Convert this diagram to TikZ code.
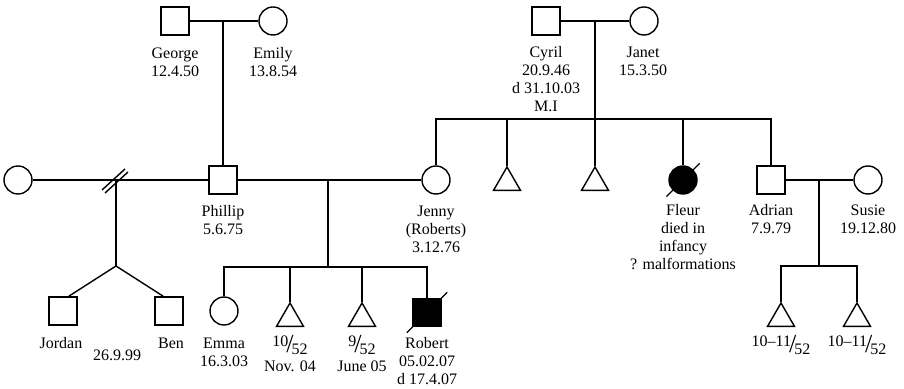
\documentclass[tikz,border=0pt]{standalone}
\usepackage{fontspec}
\setmainfont{Liberation Serif}
\usetikzlibrary{shapes.geometric,calc}
\newcommand\pedfrac[2]{\raisebox{0.45ex}{#1}\kern-0.12em\raisebox{-0.35ex}{\fontsize{13}{13}\selectfont/}\kern-0.12em\raisebox{-0.6ex}{#2}}
\tikzset{
  sq/.style={draw, rectangle, minimum size=14pt, inner sep=0pt},
  ci/.style={draw, circle, minimum size=14pt, inner sep=0pt},
  tri/.style={draw, regular polygon, regular polygon sides=3, minimum size=15.6pt, inner sep=0pt},
  lbl/.style={anchor=north, align=center, inner sep=0pt, font=\fontsize{8}{9}\selectfont},
  flbl/.style={anchor=center, inner sep=0pt, font=\fontsize{8}{9}\selectfont},
}
\begin{document}
\begin{tikzpicture}[x=0.5pt, y=-0.5pt, line width=0.7pt]
\useasboundingbox (0,0) rectangle (904,389);
% top generation
\node[sq] (george) at (175,21) {};
\node[ci] (emily) at (273,21) {};
\coordinate (ge) at (223,21);
\node[sq] (cyril) at (546,21) {};
\node[ci] (janet) at (644,21) {};
\coordinate (cj) at (595,21);
\draw (george) -- (emily);
\draw (cyril) -- (janet);
% middle generation
\node[ci] (exw) at (18,180) {};
\node[sq] (phillip) at (223,180) {};
\node[ci] (jenny) at (436,180) {};
\node[tri] (ta) at (507,182.6) {};
\node[tri] (tb) at (595,182.6) {};
\node[ci, fill=black] (fleur) at (683,180) {};
\node[sq] (adrian) at (771,180) {};
\node[ci] (susie) at (868,180) {};
\draw (ge) -- (phillip);
\draw (exw) -- (phillip);
\draw (phillip) -- (jenny);
\draw (adrian) -- (susie);
% Cyril/Janet sibship
\coordinate (cjs) at (595,119);
\draw (cj) -- (cjs);
\draw (jenny.north) |- (cjs);
\draw (cjs) -| (adrian.north);
\draw (ta.corner 1) -- (ta.corner 1 |- cjs);
\draw (tb.corner 1) -- (tb.corner 1 |- cjs);
\draw (fleur.north) -- (fleur.north |- cjs);
\draw ($(fleur.center)!1.6!(fleur.south west)$) -- ($(fleur.center)!1.6!(fleur.north east)$);
% divorce
\coordinate (div) at (116,180);
\coordinate (twin) at (116,266);
\draw (102,190) -- (125,169);
\draw (105,193) -- (128,172);
\node[sq] (jordan) at (63,311) {};
\node[sq] (ben) at (169,311) {};
\draw (div) -- (twin);
\draw (twin) -- ([xshift=-4.5pt]jordan.north east);
\draw (twin) -- ([xshift=4.5pt]ben.north west);
% Phillip/Jenny children
\coordinate (pj) at (328,180);
\coordinate (pjs) at (328,267);
\node[ci] (emma) at (224,311) {};
\node[tri] (t1) at (290,318.6) {};
\node[tri] (t2) at (362,318.6) {};
\node[sq, fill=black] (robert) at (427,312.5) {};
\draw (pj) -- (pjs);
\draw (emma.north) |- (pjs);
\draw (pjs) -| (robert.north);
\draw (t1.corner 1) -- (t1.corner 1 |- pjs);
\draw (t2.corner 1) -- (t2.corner 1 |- pjs);
\draw ($(robert.center)!1.37!(robert.south west)$) -- ($(robert.center)!1.37!(robert.north east)$);
% Adrian/Susie children
\coordinate (as) at (819,180);
\coordinate (ass) at (819,266);
\node[tri] (t3) at (781,318.6) {};
\node[tri] (t4) at (857,318.6) {};
\draw (as) -- (ass);
\draw (t3.corner 1) |- (ass);
\draw (ass) -| (t4.corner 1);
% labels
\node[lbl] (lgeorge) at (175,47) {George\\12.4.50};
\node[lbl] (lemily) at (273,47) {Emily\\13.8.54};
\node[lbl] (lcyril) at (546,46) {Cyril\\20.9.46\\d 31.10.03\\M.I};
\node[lbl] (ljanet) at (643,46) {Janet\\15.3.50};
\node[lbl] (lphillip) at (223,205) {Phillip\\5.6.75};
\node[lbl] (ljenny) at (436,205) {Jenny\\(Roberts)\\3.12.76};
\node[lbl] (lfleur) at (683,204) {Fleur\\died in\\infancy\\? malformations};
\node[lbl] (ladrian) at (771,204) {Adrian\\7.9.79};
\node[lbl] (lsusie) at (868,204) {Susie\\19.12.80};
\node[lbl] (ljordan) at (61,337) {Jordan};
\node[lbl] (lben) at (171,337) {Ben};
\node[lbl] (ltwins) at (117,349) {26.9.99};
\node[lbl] (lemma) at (224,337) {Emma\\16.3.03};
\node[lbl] (lrobert) at (427,337) {Robert\\05.02.07\\d 17.4.07};
\node[flbl] (f1) at (290,345) {\pedfrac{10}{52}};
\node[lbl] (d1) at (290,360) {Nov. 04};
\node[flbl] (f2) at (362,345) {\pedfrac{9}{52}};
\node[lbl] (d2) at (362,360) {June 05};
\node[flbl] (f3) at (781,345) {\pedfrac{10--11}{52}};
\node[flbl] (f4) at (857,345) {\pedfrac{10--11}{52}};
\end{tikzpicture}
\end{document}
